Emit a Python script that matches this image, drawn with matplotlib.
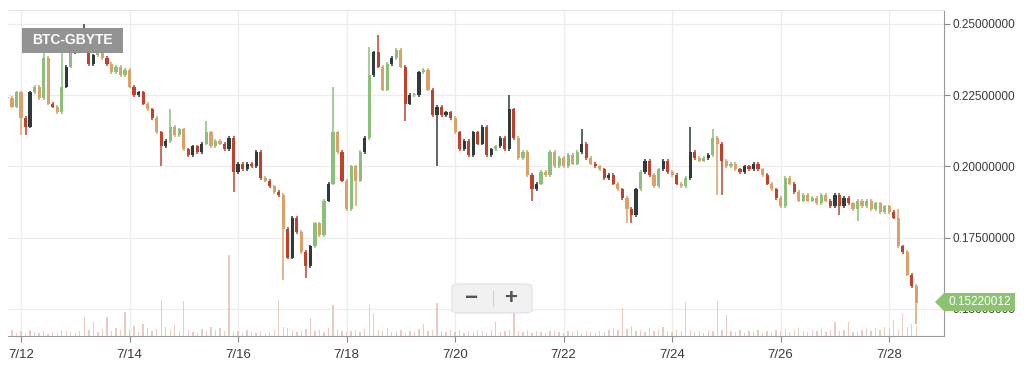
import numpy as np
import matplotlib
matplotlib.use("Agg")
import matplotlib.pyplot as plt
from matplotlib.patches import FancyBboxPatch, Polygon

plt.rcParams['font.family'] = ['Liberation Sans', 'DejaVu Sans']

# 2-hour candles, first one at 7/11 18:00
start_day = 11.75
step = 1.0 / 12

closes = [
    0.224, 0.221, 0.226,
    # 7/12
    0.217, 0.214, 0.226, 0.228, 0.224, 0.238, 0.222, 0.221, 0.219, 0.228, 0.235, 0.240,
    # 7/13
    0.243, 0.241, 0.245, 0.236, 0.239, 0.241, 0.238, 0.236, 0.233, 0.235, 0.232, 0.234,
    # 7/14
    0.228, 0.225, 0.226, 0.222, 0.220, 0.217, 0.212, 0.207, 0.209, 0.214, 0.211, 0.213,
    # 7/15
    0.206, 0.204, 0.207, 0.205, 0.208, 0.212, 0.207, 0.209, 0.208, 0.206, 0.210, 0.198,
    # 7/16
    0.201, 0.199, 0.201, 0.200, 0.205, 0.196, 0.195, 0.193, 0.191, 0.190, 0.178, 0.168,
    # 7/17
    0.182, 0.177, 0.170, 0.165, 0.172, 0.180, 0.176, 0.188, 0.194, 0.212, 0.205, 0.195,
    # 7/18
    0.185, 0.200, 0.195, 0.205, 0.210, 0.232, 0.240, 0.235, 0.227, 0.236, 0.238, 0.241,
    # 7/19
    0.235, 0.222, 0.225, 0.225, 0.233, 0.234, 0.227, 0.218, 0.221, 0.218, 0.219, 0.217,
    # 7/20
    0.212, 0.206, 0.209, 0.204, 0.212, 0.208, 0.214, 0.204, 0.206, 0.207, 0.210, 0.206,
    # 7/21
    0.220, 0.210, 0.203, 0.205, 0.197, 0.192, 0.194, 0.198, 0.197, 0.205, 0.200, 0.203,
    # 7/22
    0.200, 0.204, 0.201, 0.205, 0.208, 0.203, 0.201, 0.200, 0.199, 0.196, 0.197, 0.194,
    # 7/23
    0.192, 0.189, 0.185, 0.183, 0.192, 0.198, 0.202, 0.197, 0.193, 0.199, 0.202, 0.198,
    # 7/24
    0.197, 0.194, 0.193, 0.196, 0.205, 0.203, 0.202, 0.203, 0.204, 0.210, 0.208, 0.202,
    # 7/25
    0.200, 0.201, 0.199, 0.198, 0.200, 0.199, 0.201, 0.199, 0.197, 0.194, 0.192, 0.189,
    # 7/26
    0.186, 0.196, 0.194, 0.191, 0.188, 0.190, 0.188, 0.189, 0.187, 0.190, 0.188, 0.186,
    # 7/27
    0.190, 0.186, 0.189, 0.187, 0.185, 0.188, 0.186, 0.188, 0.185, 0.187, 0.184, 0.186,
    # 7/28
    0.184, 0.182, 0.172, 0.170, 0.162, 0.158, 0.15220012,
]

# long wicks that stick out of the bodies: candle index -> high / low
spike_high = {8: 0.240, 12: 0.240, 17: 0.250, 36: 0.220, 44: 0.216, 72: 0.228,
              80: 0.242, 82: 0.246, 111: 0.225, 127: 0.213, 151: 0.214,
              156: 0.213, 197: 0.185}
spike_low = {3: 0.211, 4: 0.211, 34: 0.200, 50: 0.191, 61: 0.160, 66: 0.161,
             77: 0.186, 88: 0.216, 95: 0.200, 116: 0.188, 137: 0.180, 138: 0.180,
             157: 0.190, 158: 0.190, 184: 0.183, 188: 0.181, 201: 0.1447}

volumes = [
    4, 6, 3,
    5, 3, 6, 4, 3, 5, 2, 4, 3, 6, 5, 4,
    3, 5, 19, 6, 14, 4, 7, 19, 5, 8, 6, 24,
    6, 10, 4, 12, 8, 5, 7, 36, 9, 6, 11, 5,
    35, 6, 4, 3, 7, 5, 9, 6, 8, 5, 81, 4,
    5, 3, 6, 4, 3, 5, 2, 4, 6, 36, 9, 8,
    6, 4, 5, 7, 18, 5, 6, 4, 8, 31, 6, 5,
    4, 5, 6, 4, 7, 31, 22, 6, 5, 8, 4, 5,
    6, 3, 5, 4, 7, 12, 5, 6, 33, 5, 4, 6,
    4, 6, 3, 5, 4, 6, 5, 3, 6, 14, 4, 5,
    6, 23, 5, 4, 6, 3, 5, 4, 3, 5, 6, 4,
    3, 5, 4, 6, 3, 5, 4, 3, 5, 4, 6, 8,
    6, 28, 7, 10, 5, 6, 4, 8, 5, 6, 9, 5,
    4, 6, 5, 34, 6, 4, 5, 3, 6, 5, 35, 6,
    21, 5, 4, 6, 3, 5, 4, 6, 3, 5, 4, 6,
    5, 7, 4, 6, 8, 5, 4, 6, 5, 7, 4, 6,
    14, 5, 6, 14, 4, 5, 6, 7, 5, 8, 6, 9,
    8, 16, 6, 22, 9, 12, 10,
]

y_ticks = [0.15, 0.175, 0.2, 0.225, 0.25]
x_ticks = [12, 14, 16, 18, 20, 22, 24, 26, 28]
x_labels = ['7/%d' % d for d in x_ticks]
pair_name = 'BTC-GBYTE'
last_price = '0.15220012'

up_colors = ['#8cc07a', '#2f3a3a']
down_colors = ['#c0422c', '#d9a26a']

W, H = 1024, 370
fig = plt.figure(figsize=(W / 100, H / 100), dpi=100)
fig.patch.set_facecolor('white')

left, right, bottom, top = 8 / W, 944 / W, (H - 336) / H, (H - 10) / H
ax = fig.add_axes([left, bottom, right - left, top - bottom])

t = start_day + step * np.arange(len(closes))
closes = np.array(closes)
opens = np.concatenate([[closes[0]], closes[:-1]])

# volume bars along the bottom (twin axis, made before the price ticks are set)
vax = ax.twinx()
vax.bar(t, volumes, width=0.025, color='#e5bfb6', edgecolor='none', alpha=0.8, zorder=1)
vax.set_ylim(0, 326)
vax.set_yticks([])
for s in vax.spines.values():
    s.set_visible(False)

for i in range(len(closes)):
    o, c = opens[i], closes[i]
    hi = spike_high.get(i, max(o, c) + 0.0006)
    lo = spike_low.get(i, min(o, c) - 0.0006)
    col = up_colors[i % 2] if c >= o else down_colors[i % 2]
    ax.vlines(t[i], lo, hi, color=col, lw=1.1, zorder=3)
    body = max(abs(c - o), 0.0005)
    ax.bar(t[i], body, bottom=min(o, c), width=0.058, color=col,
           edgecolor='none', zorder=4)

ax.set_xlim(11.76, 29.01)
ax.set_ylim(0.1405, 0.2549)

ax.yaxis.tick_right()
ax.set_yticks(y_ticks)
ax.set_yticklabels(['%.8f' % v for v in y_ticks])
ax.set_xticks(x_ticks)
ax.set_xticklabels(x_labels)
ax.tick_params(axis='both', colors='#888888', labelcolor='#3a3a3a',
               length=4, width=0.8)
ax.tick_params(axis='y', labelsize=8.5, pad=2, left=False, labelleft=False,
               right=True, labelright=True)
ax.tick_params(axis='x', labelsize=9.5, pad=5)
ax.grid(True, color='#ececec', lw=0.9, zorder=0)
ax.set_axisbelow(True)
ax.spines['left'].set_visible(False)
ax.spines['top'].set_color('#e6e6e6')
ax.spines['right'].set_color('#999999')
ax.spines['bottom'].set_color('#999999')

# pair label
fig.patches.append(FancyBboxPatch((22 / W, (H - 53) / H), 101 / W, 25 / H,
                                  boxstyle='square,pad=0', transform=fig.transFigure,
                                  facecolor='#939393', edgecolor='none', zorder=10))
fig.text(72.5 / W, (H - 40.5) / H, pair_name, color='white', fontsize=10,
         fontweight='bold', ha='center', va='center', zorder=11)

# last price tag
tag = Polygon([(935 / W, (H - 302) / H), (944 / W, (H - 293) / H), (1015 / W, (H - 293) / H),
               (1015 / W, (H - 311) / H), (944 / W, (H - 311) / H)],
              closed=True, transform=fig.transFigure, facecolor='#8cc271',
              edgecolor='none', zorder=10)
fig.patches.append(tag)
fig.text(980 / W, (H - 302) / H, last_price, color='white', fontsize=8.5,
         ha='center', va='center', zorder=11)

# zoom control
fig.patches.append(FancyBboxPatch((452 / W, (H - 313) / H), 80 / W, 29 / H,
                                  boxstyle='round,pad=0,rounding_size=0.008',
                                  transform=fig.transFigure, facecolor='#f1f1f1',
                                  edgecolor='#e0e0e0', lw=0.8, zorder=10))
fig.lines.append(plt.Line2D([493 / W, 493 / W], [(H - 306) / H, (H - 291) / H],
                            transform=fig.transFigure, color='#d0d0d0', lw=0.8, zorder=11))
fig.text(471 / W, (H - 299) / H, '\u2212', color='#555555', fontsize=16,
         fontweight='bold', ha='center', va='center', zorder=11)
fig.text(511 / W, (H - 299) / H, '+', color='#555555', fontsize=16,
         fontweight='bold', ha='center', va='center', zorder=11)

fig.savefig('out.png', dpi=100, facecolor='white')
